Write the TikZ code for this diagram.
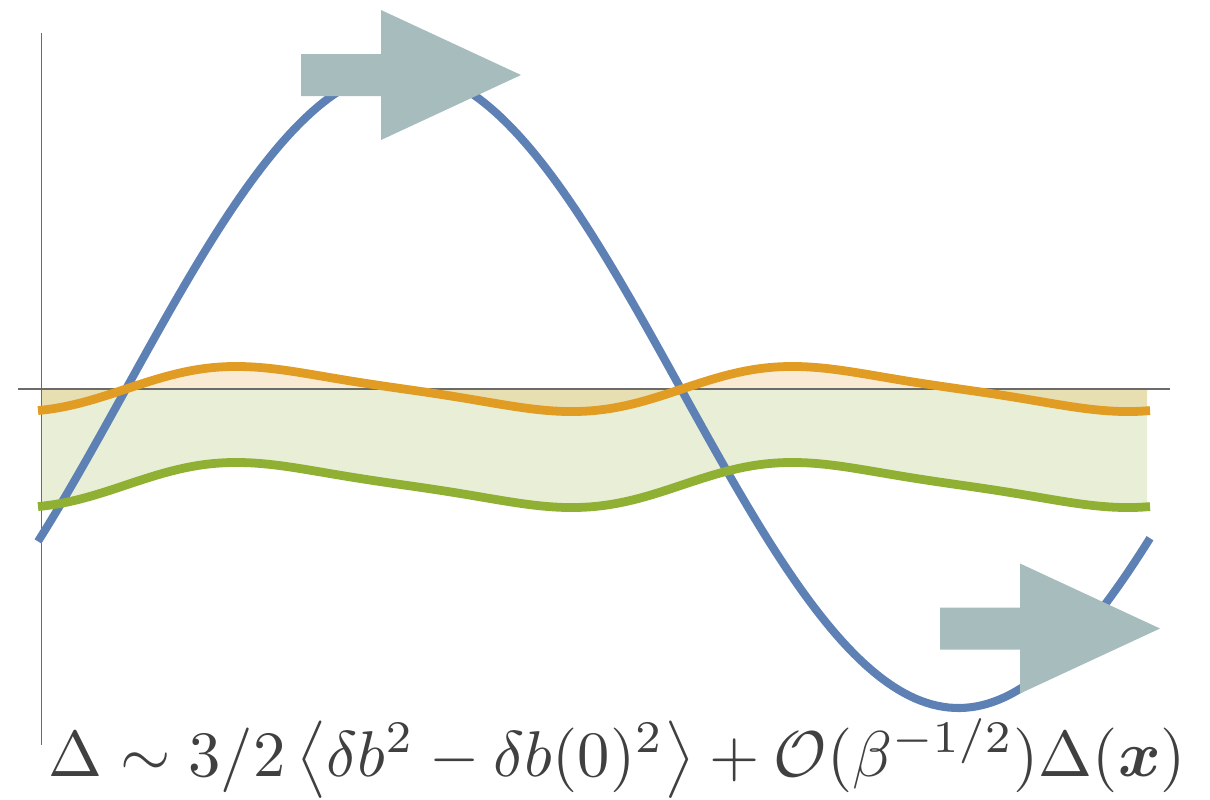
\documentclass[tikz,border=0pt]{standalone}
\usepackage{amsmath,amssymb}
\usepackage{bm}
\usepackage{graphicx}
\definecolor{CurveBlue}{HTML}{5E81B5}
\definecolor{CurveOrange}{HTML}{E19C24}
\definecolor{CurveGreen}{HTML}{8FB032}
\definecolor{ArrowGray}{HTML}{A7BCBC}
\definecolor{AxisGray}{HTML}{6B6B6B}
\definecolor{TextGray}{HTML}{404040}
\begin{document}
\begin{tikzpicture}[x=0.02cm,y=-0.02cm,
    declare function={bigwave(\t)=389-319*sin(0.324324*(\t-126));
                      wave(\t)=389-21.1*(sin(0.64748*(\t-126))+0.2*sin(1.29496*(\t-126)));},
    curve/.style={line width=5pt},
    band/.style={opacity=0.2},
    axisline/.style={AxisGray,line width=0.6pt}]
  \useasboundingbox (0,0) rectangle (1210,799);

  % shaded bands under the axis
  \fill[CurveGreen,band] plot[domain=41:1147,samples=160] (\x,{wave(\x)+96}) -- (1147,389) -- (41,389) -- cycle;
  \fill[CurveOrange,band] plot[domain=41:1147,samples=160] (\x,{wave(\x)}) -- (1147,389) -- (41,389) -- cycle;

  \draw[axisline] (18,389) -- (1170,389);
  \draw[axisline] (41.5,33) -- (41.5,745);

  \draw[CurveBlue,line width=4.6pt] plot[domain=38:1150,samples=200] (\x,{bigwave(\x)});
  \draw[CurveOrange,curve] plot[domain=38:1150,samples=160] (\x,{wave(\x)});
  \draw[CurveGreen,curve] plot[domain=38:1150,samples=160] (\x,{wave(\x)+96});

  % block arrows
  \foreach \tx/\ty in {521/75,1160/628.5}
    \fill[ArrowGray,shift={(\tx,\ty)}] (-220,-21) -- (-140,-21) -- (-140,-65) -- (0,0)
      -- (-140,65) -- (-140,21) -- (-220,21) -- cycle;

  \node[TextGray,anchor=base west,inner sep=0pt] (formula) at (48,776)
    {\scalebox{3.68}{$\Delta \sim 3/2\left\langle \delta b^2 - \delta b(0)^2\right\rangle + \mathcal{O}(\beta^{-1/2})\Delta(\bm{x})$}};
\end{tikzpicture}
\end{document}
